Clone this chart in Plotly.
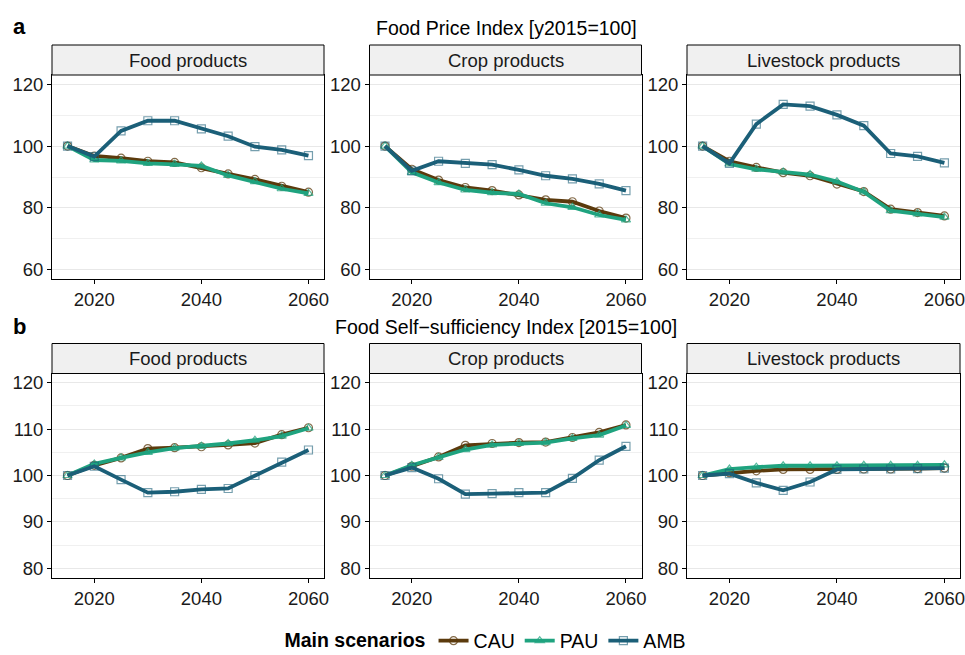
import plotly.graph_objects as go

W, H = 965, 655

years = [2015, 2020, 2025, 2030, 2035, 2040, 2045, 2050, 2055, 2060]
scenarios = ["CAU", "PAU", "AMB"]
panel_titles = ["Food products", "Crop products", "Livestock products"]
row_titles = ["Food Price Index [y2015=100]", "Food Self\u2212sufficiency Index [2015=100]"]
row_letters = ["a", "b"]

# Row a: Food Price Index
price_food_CAU = [100, 96.8, 96.1, 95.1, 94.7, 93.0, 91.0, 89.2, 87.0, 85.1]
price_food_PAU = [100, 95.5, 95.2, 94.4, 94.1, 93.6, 90.5, 88.5, 86.2, 84.7]
price_food_AMB = [100, 96.6, 104.9, 108.2, 108.2, 105.6, 103.2, 99.8, 98.8, 96.9]

price_crop_CAU = [100, 92.5, 89.0, 86.6, 85.6, 84.2, 82.6, 82.0, 79.0, 76.7]
price_crop_PAU = [100, 91.5, 88.2, 85.8, 84.9, 84.5, 81.5, 80.2, 77.7, 76.1]
price_crop_AMB = [100, 92.0, 95.1, 94.4, 94.0, 92.3, 90.4, 89.4, 87.8, 85.6]

price_live_CAU = [100, 95.1, 93.1, 91.4, 90.4, 87.7, 85.3, 79.6, 78.5, 77.4]
price_live_PAU = [100, 94.2, 92.5, 91.6, 90.8, 88.5, 85.2, 79.1, 78.1, 77.0]
price_live_AMB = [100, 94.4, 107.1, 113.5, 112.9, 110.1, 106.6, 97.6, 96.7, 94.6]

# Row b: Food Self-sufficiency Index
ss_food_CAU = [100, 102.2, 103.8, 105.8, 106.0, 106.2, 106.6, 107.0, 108.8, 110.3]
ss_food_PAU = [100, 102.5, 103.8, 105.0, 105.9, 106.3, 106.9, 107.6, 108.5, 110.2]
ss_food_AMB = [100, 102.0, 99.1, 96.3, 96.5, 97.0, 97.2, 100.0, 102.9, 105.5]

ss_crop_CAU = [100, 102.0, 104.0, 106.5, 106.9, 107.1, 107.2, 108.2, 109.3, 110.9]
ss_crop_PAU = [100, 102.2, 103.9, 105.6, 106.6, 106.9, 107.1, 108.0, 108.7, 110.8]
ss_crop_AMB = [100, 101.7, 99.3, 96.0, 96.1, 96.3, 96.3, 99.4, 103.3, 106.3]

ss_live_CAU = [100, 100.6, 101.0, 101.3, 101.3, 101.3, 101.4, 101.4, 101.5, 101.6]
ss_live_PAU = [100, 101.4, 101.8, 102.1, 102.1, 102.1, 102.2, 102.2, 102.2, 102.3]
ss_live_AMB = [100, 100.4, 98.4, 96.8, 98.6, 101.3, 101.4, 101.4, 101.5, 101.6]

panels = [
    [price_food_CAU, price_food_PAU, price_food_AMB],
    [price_crop_CAU, price_crop_PAU, price_crop_AMB],
    [price_live_CAU, price_live_PAU, price_live_AMB],
    [ss_food_CAU, ss_food_PAU, ss_food_AMB],
    [ss_crop_CAU, ss_crop_PAU, ss_crop_AMB],
    [ss_live_CAU, ss_live_PAU, ss_live_AMB],
]

y_ticks = [[60, 80, 100, 120], [80, 90, 100, 110, 120]]
y_limits = [(60, 120), (80, 120)]
x_ticks = [2020, 2040, 2060]
x_range = [2012.1, 2062.9]

colors = {"CAU": "#5b3a0c", "PAU": "#1fa37f", "AMB": "#1b5f78"}
mcolors = {"CAU": "rgba(91,58,12,0.75)", "PAU": "rgba(31,163,127,0.75)", "AMB": "rgba(27,95,120,0.6)"}
symbols = {"CAU": "circle-open", "PAU": "triangle-up-open", "AMB": "square-open"}

FONT = "Liberation Sans, Arial, Helvetica, sans-serif"
TICK_FS = 18.5
STRIP_FS = 18.5
TITLE_FS = 19.5

# layout geometry in pixels
col_px = [(52, 324), (369.5, 641.5), (687, 960)]
row_px = [(75, 279), (373.5, 577.5)]
strip_h = 30

def px_x(p):
    return p / W

def px_y(p):
    return 1 - p / H

fig = go.Figure()
layout = dict(
    width=W, height=H,
    margin=dict(l=0, r=0, t=0, b=0, autoexpand=False),
    paper_bgcolor="white", plot_bgcolor="white",
    font=dict(family=FONT, size=TICK_FS, color="black"),
    showlegend=True,
)
shapes = []
annotations = []

for i, series in enumerate(panels):
    r, c = divmod(i, 3)
    ax = "" if i == 0 else str(i + 1)
    x0, x1 = col_px[c]
    y0, y1 = row_px[r]
    lo, hi = y_limits[r]
    pad = (hi - lo) * 0.05
    layout["xaxis" + ax] = dict(
        domain=[px_x(x0), px_x(x1)], anchor="y" + ax,
        range=x_range,
        tickvals=x_ticks, ticks="outside", ticklen=4, tickcolor="black",
        showgrid=False, zeroline=False, automargin=False, ticklabeloverflow="allow",
        showline=True, linecolor="black", linewidth=1, mirror=True,
        tickfont=dict(size=TICK_FS, color="#1a1a1a"),
    )
    dt = y_ticks[r][1] - y_ticks[r][0]
    layout["yaxis" + ax] = dict(
        domain=[px_y(y1), px_y(y0)], anchor="x" + ax,
        range=[lo - pad, hi + pad],
        tickvals=y_ticks[r], ticks="outside", ticklen=4, tickcolor="black",
        showgrid=True, gridcolor="#e8e8e8", gridwidth=1.2, zeroline=False, automargin=False,
        ticklabeloverflow="allow",
        showline=True, linecolor="black", linewidth=1, mirror=True,
        tickfont=dict(size=TICK_FS, color="#1a1a1a"),
        minor=dict(showgrid=True, gridcolor="#f0f0f0", gridwidth=0.8,
                   tick0=y_ticks[r][0] - dt / 2, dtick=dt),
    )
    for s, vals in zip(scenarios, series):
        fig.add_trace(go.Scatter(
            x=years, y=vals, mode="lines+markers", name=s,
            legendgroup=s, showlegend=(i == 0),
            line=dict(color=colors[s], width=3.8),
            marker=dict(symbol=symbols[s], size=8, color=mcolors[s],
                        line=dict(width=1.2, color=mcolors[s])),
            xaxis="x" + ax, yaxis="y" + ax,
        ))
    # strip
    shapes.append(dict(type="rect", xref="paper", yref="paper",
                       x0=px_x(x0), x1=px_x(x1), y0=px_y(y0), y1=px_y(y0 - strip_h),
                       fillcolor="#f0f0f0", line=dict(color="black", width=1), layer="above"))
    annotations.append(dict(text=panel_titles[c], xref="paper", yref="paper",
                            x=px_x((x0 + x1) / 2), y=px_y(y0 - strip_h / 2),
                            xanchor="center", yanchor="middle", showarrow=False,
                            font=dict(size=STRIP_FS, color="#1a1a1a")))

for r in range(2):
    ty = [27, 326][r]
    annotations.append(dict(text="<b>%s</b>" % row_letters[r], xref="paper", yref="paper",
                            x=px_x(11), y=px_y(ty), xanchor="left", yanchor="middle",
                            showarrow=False, font=dict(size=22, color="black")))
    annotations.append(dict(text=row_titles[r], xref="paper", yref="paper",
                            x=px_x(506), y=px_y(ty + 1), xanchor="center", yanchor="middle",
                            showarrow=False, font=dict(size=TITLE_FS, color="black")))

layout["shapes"] = shapes
layout["annotations"] = annotations
layout["legend"] = dict(
    orientation="h", x=px_x(487), y=px_y(641), xanchor="center", yanchor="middle",
    title=dict(text="<b>Main scenarios</b>", font=dict(size=19.5)),
    font=dict(size=19.5), itemwidth=30, bgcolor="rgba(0,0,0,0)",
)
fig.update_layout(**layout)
fig.write_html("out.html", config={"displayModeBar": False},
               post_script="document.body.style.margin='0';")
